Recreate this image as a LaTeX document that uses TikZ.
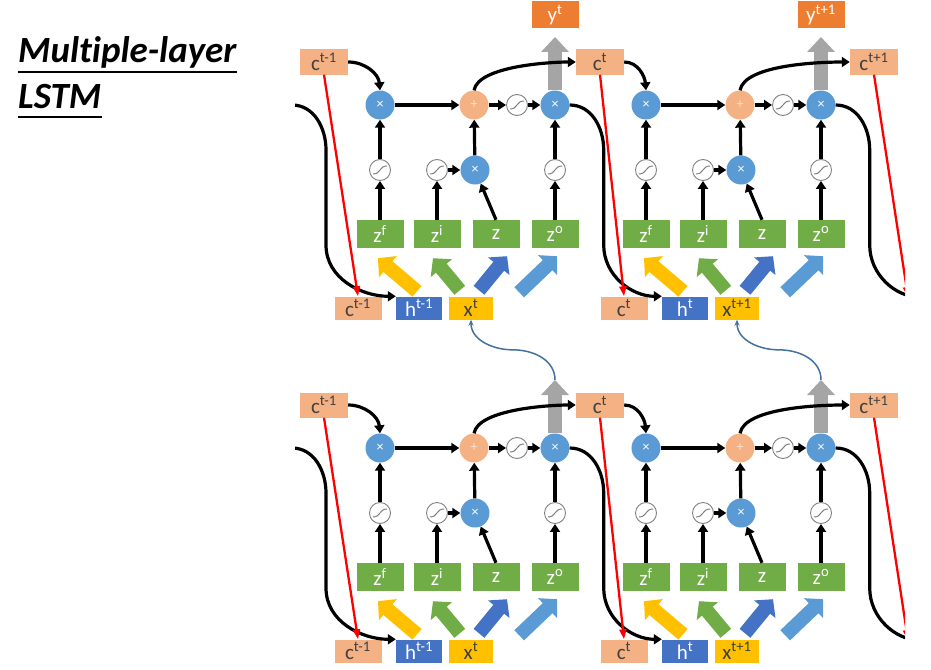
\documentclass[tikz,border=0pt]{standalone}
\usepackage{fontspec}
\setmainfont{Carlito}
\newfontfamily\headfont{Carlito}[Ligatures=NoCommon]
\usetikzlibrary{arrows.meta,calc}

\definecolor{peach}{HTML}{F4B183}
\definecolor{burnt}{HTML}{ED7D31}
\definecolor{leaf}{HTML}{70AD47}
\definecolor{royal}{HTML}{4472C4}
\definecolor{sky}{HTML}{5B9BD5}
\definecolor{gold}{HTML}{FFC000}
\definecolor{ash}{HTML}{A5A5A5}
\definecolor{ink}{HTML}{404040}
\definecolor{steel}{HTML}{41719C}
\def\boxfont{\fontsize{21}{23}\selectfont}
\def\sups#1{\textsuperscript{#1}}
\tikzstyle{cstate}=[rectangle,fill=peach,text=ink,minimum width=48pt,
                    minimum height=25pt,inner sep=0pt,font=\boxfont]
\tikzstyle{cbottom}=[cstate,minimum width=47pt,minimum height=23pt]
\tikzstyle{hstate}=[cbottom,fill=royal,text=white,minimum width=46pt]
\tikzstyle{xinput}=[cbottom,fill=gold,text=ink,minimum width=44pt]
\tikzstyle{yout}=[cstate,fill=burnt,text=white,minimum width=47pt,minimum height=27pt]
\tikzstyle{gatebox}=[cstate,fill=leaf,text=white,minimum width=47pt,minimum height=28pt]
\tikzstyle{mulnode}=[circle,fill=sky,text=white,minimum size=29pt,inner sep=0pt,
                     font={\fontsize{14}{14}\selectfont}]
\tikzstyle{addnode}=[mulnode,fill=peach,text=white!60!peach]
\tikzstyle{signode}=[circle,draw=gray,fill=white,line width=0.9pt,minimum size=21pt,
                     inner sep=0pt,path picture={\draw[line width=1pt,
                     shift={(path picture bounding box.center)}]
                     (-7pt,-4pt) .. controls (1pt,-4pt) and (-1pt,4pt) .. (7pt,4pt);}]
\tikzstyle{flow}=[line width=3.2pt,-{Triangle[length=8pt,width=10pt]}]
\tikzstyle{cpass}=[red,line width=2.3pt,-{Triangle[length=10pt,width=7pt]}]
\tikzstyle{bigarrow}=[line width=14pt,-{Triangle[length=13pt,width=27pt]}]
\tikzstyle{outarrow}=[ash,line width=14pt,-{Triangle[length=15pt,width=27pt]}]
\tikzstyle{uplink}=[steel,line width=1.5pt,-{Stealth[length=6pt,width=5pt]}]
\tikzstyle{heading}=[inner sep=0pt,anchor=base west,
                     font={\headfont\fontsize{37}{40}\selectfont\bfseries\itshape}]

\begin{document}
\begin{tikzpicture}[x=1pt,y=-1pt]
  \useasboundingbox (0,0) rectangle (931,669);
  % Title
  \node[heading] (title1) at (18,63) {Multiple-layer};
  \node[heading] (title2) at (18,108) {LSTM};
  \draw[line width=2.4pt] ([yshift=-9pt]title1.base west) -- ([yshift=-9pt]title1.base east);
  \draw[line width=2.4pt] ([yshift=-9pt]title2.base west) -- ([yshift=-9pt]title2.base east);

  \begin{scope}
  \clip (295,0) rectangle (905,669);
  % Place cell states on top of each layer
  \foreach \dy/\lay in {0/u, 343/l} {
    \node[cstate] (\lay-c0) at (324,62+\dy) {c\sups{t-1}};
    \node[cstate] (\lay-c1) at (600,62+\dy) {c\sups{t}};
    \node[cstate] (\lay-c2) at (874,62+\dy) {c\sups{t+1}};
    \coordinate (\lay-cn) at (908,297+\dy);
    \coordinate (\lay-hp) at (292,105+\dy);
    \coordinate (\lay-hn) at (926,297+\dy);
  }

  % Place the four blocks
  \foreach \dx/\dy/\bn/\pt/\nt in {0/0/a/{t-1}/t, 266/0/b/t/{t+1},
                                   0/343/c/{t-1}/t, 266/343/d/t/{t+1}} {
    \begin{scope}[shift={(\dx,\dy)},name prefix=\bn-]
      \node[cbottom] (cb) at (358,308) {c\sups{\pt}};
      \node[hstate] (hb) at (419,308) {h\sups{\pt}};
      \node[xinput] (xb) at (471,308) {x\sups{\nt}};

      \node[gatebox] (zf) at (380,234) {z\sups{f}};
      \node[gatebox] (zi) at (437,234) {z\sups{i}};
      \node[gatebox] (zz) at (496,234) {z};
      \node[gatebox] (zo) at (555,234) {z\sups{o}};

      \node[signode] (sf) at (380,170) {};
      \node[signode] (si) at (437,170) {};
      \node[mulnode] (mi) at (475,170) {×};
      \node[signode] (so) at (555,170) {};

      \node[mulnode] (mf) at (380,105) {×};
      \node[addnode] (pl) at (474,105) {+};
      \node[signode] (sc) at (517,105) {};
      \node[mulnode] (mo) at (555,105) {×};
      \coordinate (top) at (555,37);

      % inputs into the gates
      \draw[bigarrow,gold] ([shift={(-2,-5)}]hb.north) -- ([shift={(-2,10)}]zf.south);
      \draw[bigarrow,leaf] ([shift={(11,-6)}]xb.north west) -- ([shift={(-4,10)}]zi.south);
      \draw[bigarrow,royal] ([shift={(8,-6)}]xb.north) -- ([shift={(11,8)}]zz.south);
      \draw[bigarrow,sky] ([shift={(26,-4)}]xb.north east) -- ([shift={(2,8)}]zo.south);

      \draw[flow] (zf) -- (sf);
      \draw[flow] (sf) -- (mf);
      \draw[flow] (zi) -- (si);
      \draw[flow] (si) -- (mi);
      \draw[flow] (zz.north) -- (mi);
      \draw[flow] (mi) -- (pl);
      \draw[flow] (mf) -- (pl);
      \draw[flow] (pl) -- (sc);
      \draw[flow] (sc) -- (mo);
      \draw[flow] (zo) -- (so);
      \draw[flow] (so) -- (mo);
      \draw[outarrow] (mo.north) -- (top);
    \end{scope}
  }

  % outputs of the upper layer
  \node[yout] (a-yb) at (555,15) {y\sups{t}};
  \node[yout] (b-yb) at (821,15) {y\sups{t+1}};

  % links between the time steps
  \foreach \lay/\bl/\br in {u/a/b, l/c/d} {
    \draw[flow] (\lay-hp) to[out=0,in=90] ++(34,45) -- ++(0,95)
      to[out=-90,in=180] (\bl-hb.north west);
    \draw[flow] (\bl-mo.east) to[out=0,in=90] ++(34,45) -- ++(0,95)
      to[out=-90,in=180] (\br-hb.north west);
    \draw[flow] (\br-mo.east) to[out=0,in=90] ++(34,45) -- ++(0,95)
      to[out=-90,in=180] (\lay-hn);
    \draw[flow] (\lay-c0.east) to[out=0,in=95] (\bl-mf.north);
    \draw[flow] (\lay-c1.east) to[out=0,in=95] (\br-mf.north);
    \draw[flow] (\bl-pl.north) to[out=80,in=180,looseness=0.6] (\lay-c1.west);
    \draw[flow] (\br-pl.north) to[out=80,in=180,looseness=0.6] (\lay-c2.west);
    \draw[cpass] (\lay-c0.south) -- (\bl-cb.north);
    \draw[cpass] (\lay-c1.south) -- (\br-cb.north);
    \draw[cpass] (\lay-c2.south) -- (\lay-cn);
  }

  % lower layer feeds the upper layer
  \foreach \lo/\up in {c/a, d/b}
    \draw[uplink] (\lo-top) to[out=90,in=0] ($(\lo-top)!0.5!(\up-xb.south)$)
      to[out=180,in=-90] (\up-xb.south);
  \end{scope}
\end{tikzpicture}
\end{document}
